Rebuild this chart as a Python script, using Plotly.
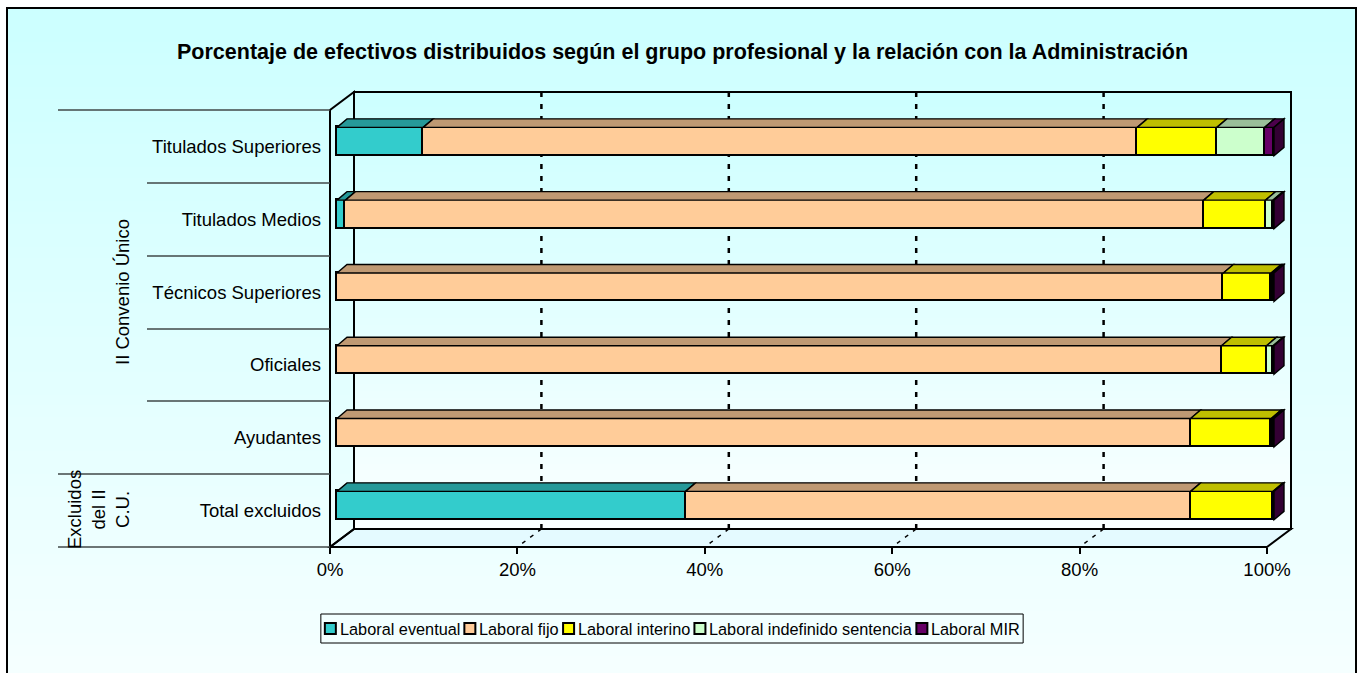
import plotly.graph_objects as go

# ---------------- data ----------------
categories = ["Total excluidos", "Ayudantes", "Oficiales",
              "Técnicos Superiores", "Titulados Medios", "Titulados Superiores"]
series_names = ["Laboral eventual", "Laboral fijo", "Laboral interino",
                "Laboral indefinido sentencia", "Laboral MIR"]
eventual = [37.2, 0.0, 0.0, 0.0, 0.9, 9.2]
fijo = [53.9, 91.1, 94.4, 94.6, 91.6, 76.2]
interino = [8.8, 8.6, 4.8, 5.1, 6.6, 8.5]
indefinido = [0.0, 0.2, 0.7, 0.2, 0.8, 5.1]
mir = [0.1, 0.1, 0.1, 0.1, 0.1, 1.0]
x_ticks = [0, 20, 40, 60, 80, 100]
title_text = "Porcentaje de efectivos distribuidos según el grupo profesional y la relación con la Administración"
group_main = "II Convenio Único"
group_excl = "Excluidos<br>del II<br>C.U."

# ---------------- styles ----------------
front_colors = ["#33CCCC", "#FFCC99", "#FFFF00", "#CCFFCC", "#660066"]
top_colors = ["#269999", "#BF9973", "#BFBF00", "#99BF99", "#4C004C"]
side_colors = ["#1A6666", "#80664D", "#808000", "#668066", "#330033"]
FONT = "Liberation Sans, Arial, sans-serif"
FS = 18.5
LEG_FS = 16.3

W, H = 1359, 673
def px(x):
    return x / W
def py(y):
    return 1 - y / H

# plot geometry (pixels)
X0, X1, YT, YB = 330, 1291, 92, 547
FRONT_100 = 1267
ppu = (FRONT_100 - X0) / 100.0          # pixels per percent
xmax = (X1 - X0) / ppu
depth_u = 24 / ppu                       # wall depth in x units
bar_shift = 7 / ppu                      # bar front faces are slightly behind front plane
ypu = (YB - YT) / 6.25
bar_w = 28.5 / ypu
bar_center_shift = 5 / ypu
bar_off = bar_center_shift - bar_w / 2
dx_u = 10 / ppu
dy_u = 8.5 / ypu

all_series = [eventual, fijo, interino, indefinido, mir]
ypos = list(range(len(categories)))

fig = go.Figure()
for name, vals, col in zip(series_names, all_series, front_colors):
    fig.add_trace(go.Bar(
        orientation="h", x=vals, y=ypos, name=name,
        xaxis="x2", yaxis="y",
        width=bar_w, offset=bar_off,
        marker=dict(color=col, line=dict(color="black", width=1.6)),
        showlegend=False,
    ))

shapes = []
# chart-area gradient background
nb = 60
top_c = (204, 255, 255)
bot_c = (246, 255, 255)
y_start, y_end = 8, 690
for i in range(nb):
    t = i / (nb - 1)
    c = tuple(int(round(top_c[k] + (bot_c[k] - top_c[k]) * t)) for k in range(3))
    ya = y_start + (y_end - y_start) * i / nb
    yb = y_start + (y_end - y_start) * (i + 1) / nb + 1
    shapes.append(dict(type="rect", xref="paper", yref="paper", layer="below",
                       x0=px(7), x1=px(1356), y0=py(yb), y1=py(ya),
                       fillcolor="rgb(%d,%d,%d)" % c, line=dict(width=0)))
# back wall gradient
bw_top = (204, 255, 255)
bw_bot = (250, 255, 255)
BWL, BWR, BWT, BWB = 354, 1291, 92, 529
for i in range(nb):
    t = i / (nb - 1)
    c = tuple(int(round(bw_top[k] + (bw_bot[k] - bw_top[k]) * t)) for k in range(3))
    ya = BWT + (BWB - BWT) * i / nb
    yb = BWT + (BWB - BWT) * (i + 1) / nb + 0.5
    shapes.append(dict(type="rect", xref="paper", yref="paper", layer="below",
                       x0=px(BWL), x1=px(BWR), y0=py(yb), y1=py(ya),
                       fillcolor="rgb(%d,%d,%d)" % c, line=dict(width=0)))
# floor
shapes.append(dict(type="path", xref="paper", yref="paper", layer="below",
                   path="M %f,%f L %f,%f L %f,%f L %f,%f Z" % (
                       px(X0), py(YB), px(BWL), py(BWB), px(BWR), py(BWB), px(FRONT_100), py(YB)),
                   fillcolor="#E4FAFF", line=dict(color="black", width=2)))
# left wall
shapes.append(dict(type="path", xref="paper", yref="paper", layer="below",
                   path="M %f,%f L %f,%f L %f,%f L %f,%f Z" % (
                       px(X0), py(YB), px(X0), py(110), px(BWL), py(BWT), px(BWL), py(BWB)),
                   fillcolor="rgba(0,0,0,0)", line=dict(color="black", width=2)))
# back wall border
shapes.append(dict(type="rect", xref="paper", yref="paper", layer="below",
                   x0=px(BWL), x1=px(BWR), y0=py(BWB), y1=py(BWT),
                   line=dict(color="black", width=2), fillcolor="rgba(0,0,0,0)"))
# gridlines on back wall and floor
for v in x_ticks[1:-1]:
    shapes.append(dict(type="line", xref="x", yref="paper", layer="below",
                       x0=v + depth_u, x1=v + depth_u, y0=py(BWB), y1=py(BWT),
                       line=dict(color="black", width=2.5, dash="5px,7px")))
    shapes.append(dict(type="line", xref="x", yref="paper", layer="below",
                       x0=v + depth_u, x1=v, y0=py(BWB), y1=py(YB),
                       line=dict(color="black", width=1.5, dash="4px,6px")))
# front axis line
shapes.append(dict(type="line", xref="x", yref="paper", layer="below",
                   x0=0, x1=100, y0=py(YB), y1=py(YB),
                   line=dict(color="black", width=2)))
# category separators
for yy in [183, 256, 329, 401]:
    shapes.append(dict(type="line", xref="paper", yref="paper", layer="below",
                       x0=px(147), x1=px(X0), y0=py(yy), y1=py(yy),
                       line=dict(color="#404848", width=1.3)))
for yy in [110, 474, 547]:
    shapes.append(dict(type="line", xref="paper", yref="paper", layer="below",
                       x0=px(58), x1=px(X0), y0=py(yy), y1=py(yy),
                       line=dict(color="#404848", width=1.3)))

# 3D faces of bars (computed from the data)
for r in ypos:
    ytop = r + bar_off + bar_w
    ybot = r + bar_off
    cum = 0.0
    last = None
    for s, vals in enumerate(all_series):
        v = vals[r]
        if v <= 0:
            continue
        xa, xb = cum, cum + v
        shapes.append(dict(type="path", xref="x2", yref="y", layer="above",
                           path="M %f,%f L %f,%f L %f,%f L %f,%f Z" % (
                               xa, ytop, xb, ytop, xb + dx_u, ytop + dy_u, xa + dx_u, ytop + dy_u),
                           fillcolor=top_colors[s], line=dict(color="black", width=1.4)))
        cum = xb
        last = s
    if last is not None:
        shapes.append(dict(type="path", xref="x2", yref="y", layer="above",
                           path="M %f,%f L %f,%f L %f,%f L %f,%f Z" % (
                               cum, ybot, cum, ytop, cum + dx_u, ytop + dy_u, cum + dx_u, ybot + dy_u),
                           fillcolor=side_colors[last], line=dict(color="black", width=1.4)))

annotations = [
    dict(text="<b>%s</b>" % title_text, xref="paper", yref="paper",
         x=px(682), y=py(52), xanchor="center", yanchor="middle", showarrow=False,
         font=dict(family=FONT, size=21.5, color="black")),
    dict(text=group_main, xref="paper", yref="paper", textangle=-90,
         x=px(122), y=py(292), xanchor="center", yanchor="middle", showarrow=False,
         font=dict(family=FONT, size=FS, color="black")),
    dict(text=group_excl, xref="paper", yref="paper", textangle=-90, align="center",
         x=px(98), y=py(510), xanchor="center", yanchor="middle", showarrow=False,
         font=dict(family=FONT, size=FS, color="black")),
]

# ---- legend (Excel style: compact squares followed by text) ----
ARIAL_W = {"L": 556, "a": 556, "b": 556, "o": 556, "r": 333, "l": 222, " ": 278,
           "e": 556, "v": 500, "n": 556, "t": 278, "u": 556, "f": 278, "i": 222,
           "j": 222, "d": 556, "s": 500, "c": 500, "M": 833, "I": 278, "R": 722}
def text_w(s, size):
    return sum(ARIAL_W.get(ch, 556) for ch in s) * size / 1000.0

SQ, GAP_T, GAP_I, PAD = 11, 3, 5, 4
widths = [text_w(n, LEG_FS) for n in series_names]
total = PAD * 2 + len(series_names) * (SQ + GAP_T) + sum(widths) + GAP_I * (len(series_names) - 1)
LCX, LTOP, LBOT = 672, 614, 643
lx = LCX - total / 2
lyc = (LTOP + LBOT) / 2
shapes.append(dict(type="rect", xref="paper", yref="paper", layer="above",
                   x0=px(lx), x1=px(lx + total), y0=py(LBOT), y1=py(LTOP),
                   line=dict(color="black", width=1), fillcolor="rgba(0,0,0,0)"))
cx = lx + PAD
for name, col, wdt in zip(series_names, front_colors, widths):
    shapes.append(dict(type="rect", xref="paper", yref="paper", layer="above",
                       x0=px(cx), x1=px(cx + SQ), y0=py(lyc + SQ / 2), y1=py(lyc - SQ / 2),
                       fillcolor=col, line=dict(color="black", width=2)))
    annotations.append(dict(text=name, xref="paper", yref="paper",
                            x=px(cx + SQ + GAP_T - 1), y=py(lyc), xanchor="left", yanchor="middle",
                            showarrow=False, font=dict(family=FONT, size=LEG_FS, color="black")))
    cx += SQ + GAP_T + wdt + GAP_I

# chart-area border
shapes.append(dict(type="rect", xref="paper", yref="paper", layer="above",
                   x0=px(7), x1=px(1356), y0=py(700), y1=py(8),
                   line=dict(color="black", width=2), fillcolor="rgba(0,0,0,0)"))

fig.update_layout(
    width=W, height=H, autosize=False,
    margin=dict(l=0, r=0, t=0, b=0, pad=0),
    paper_bgcolor="white", plot_bgcolor="rgba(0,0,0,0)",
    barmode="stack", bargap=0,
    font=dict(family=FONT, size=FS, color="black"),
    xaxis=dict(domain=[px(X0), px(X1)], range=[0, xmax], tickvals=x_ticks,
               ticktext=["%d%%" % v for v in x_ticks],
               showgrid=False, zeroline=False, showline=False,
               ticks="outside", ticklen=6, tickwidth=1.5, tickcolor="black",
               tickfont=dict(family=FONT, size=FS, color="black"), automargin=False),
    xaxis2=dict(domain=[px(X0), px(X1)], range=[-bar_shift, xmax - bar_shift],
                overlaying="x", visible=False, showgrid=False, zeroline=False),
    yaxis=dict(domain=[py(YB), py(YT)], range=[-0.5, 5.75], tickvals=ypos,
               ticktext=categories, showgrid=False, zeroline=False, showline=False,
               ticks="", ticklabelstandoff=8,
               tickfont=dict(family=FONT, size=FS, color="black"), automargin=False),
    shapes=shapes, annotations=annotations,
    showlegend=False,
)

fig.write_html("out.html", config={"displayModeBar": False},
               post_script="document.body.style.margin='0px';")
